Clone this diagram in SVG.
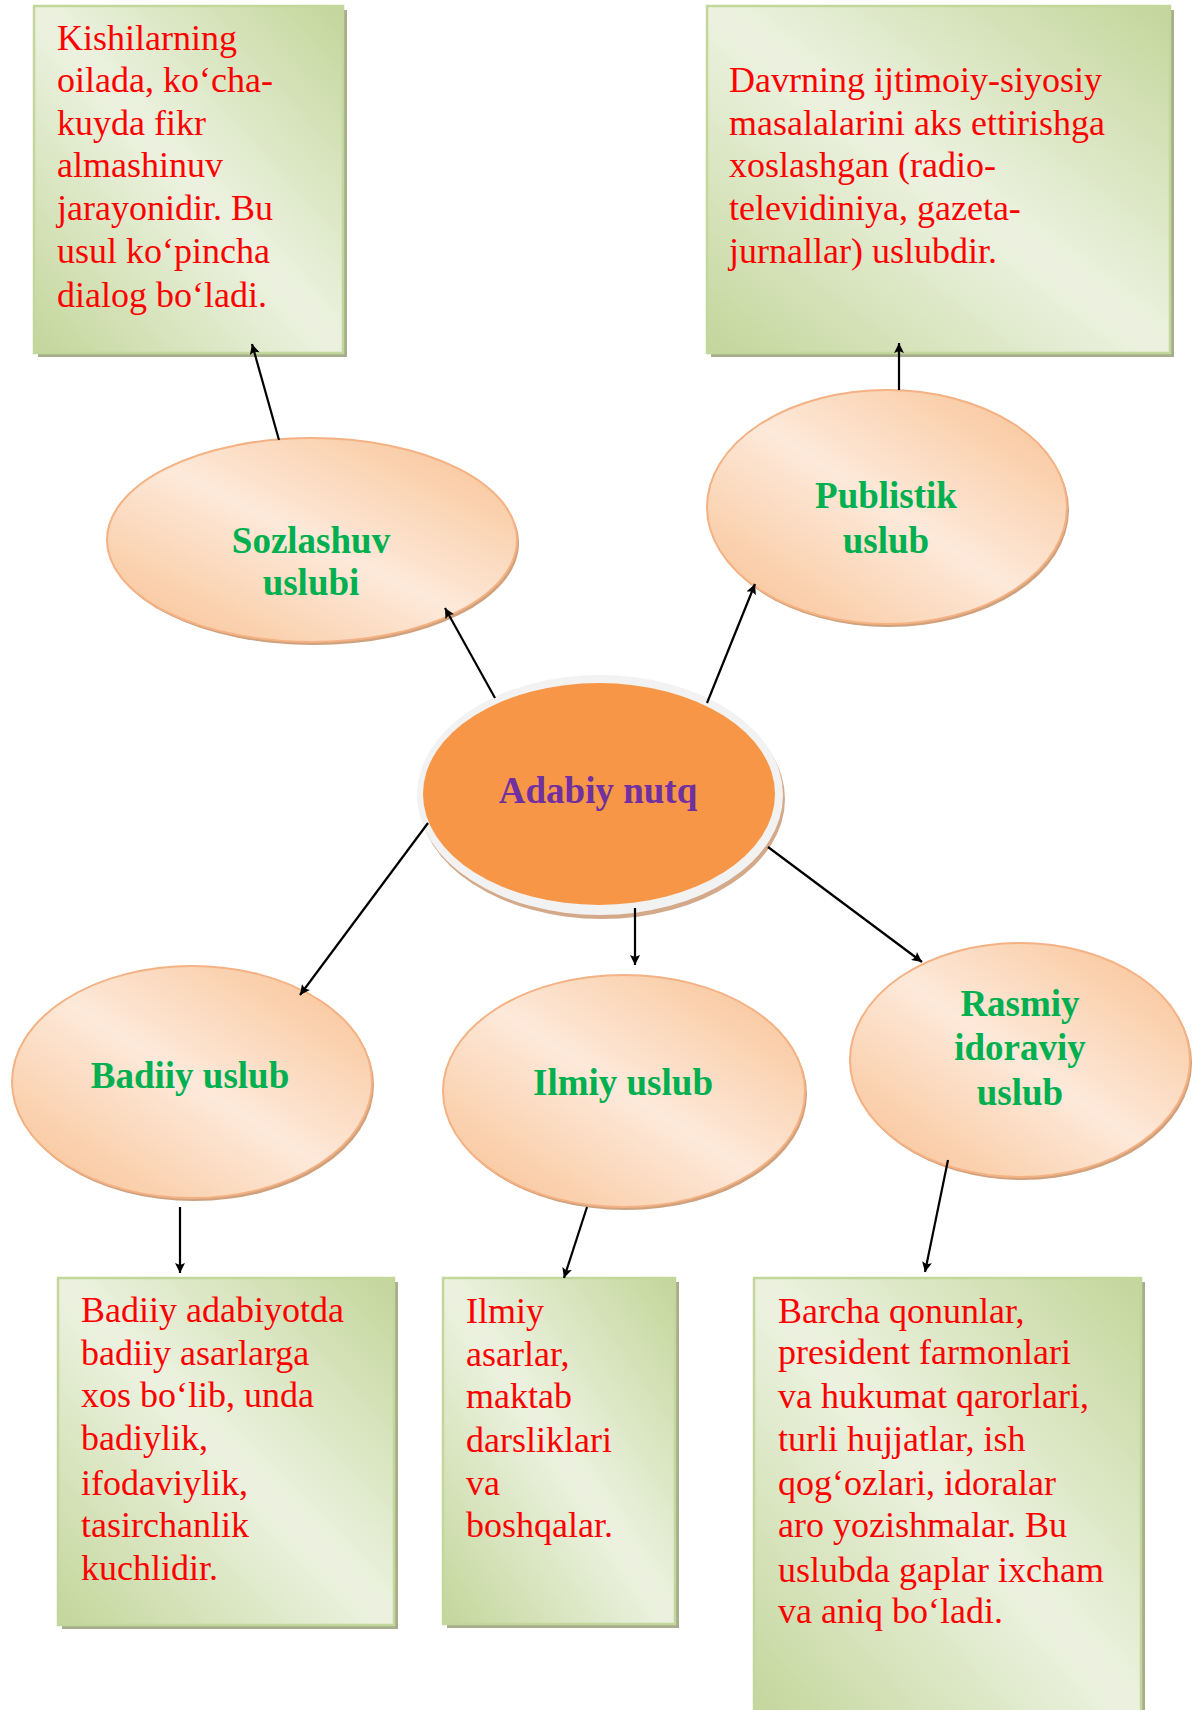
<svg xmlns="http://www.w3.org/2000/svg" width="1195" height="1710" viewBox="0 0 1195 1710">
<defs>
  <linearGradient id="gBox" x1="1" y1="0" x2="0" y2="1">
    <stop offset="0" stop-color="#c3d69b"/>
    <stop offset="0.48" stop-color="#ebf1de"/>
    <stop offset="0.52" stop-color="#ebf1de"/>
    <stop offset="1" stop-color="#c3d69b"/>
  </linearGradient>
  <linearGradient id="gEll" x1="1" y1="0" x2="0" y2="1">
    <stop offset="0" stop-color="#f8c090"/>
    <stop offset="0.5" stop-color="#fde9da"/>
    <stop offset="1" stop-color="#f8c090"/>
  </linearGradient>
  <marker id="arr" viewBox="0 0 10 10" refX="9" refY="5" markerWidth="6" markerHeight="6" markerUnits="userSpaceOnUse" orient="auto">
    <path d="M0,0 L10,5 L0,10 z" fill="#000"/>
  </marker>
  <marker id="arrB" viewBox="0 0 10 10" refX="10" refY="5" markerWidth="12" markerHeight="10" markerUnits="userSpaceOnUse" orient="auto">
    <path d="M0,0 L10,5 L0,10 L2,5 z" fill="#000"/>
  </marker>
</defs>
<style>
  .box { fill: url(#gBox); stroke: #c3d69b; stroke-width: 2.5; }
  .boxsh { fill: #a6ae8c; }
  .ell { fill: url(#gEll); stroke: #f4b183; stroke-width: 2; }
  .ellsh { fill: #cfa17c; }
  .body { font-family: "Liberation Serif", "Times New Roman", serif; font-size: 36px; fill: #ff0000; }
  .lbl { font-family: "Liberation Serif", "Times New Roman", serif; font-size: 37px; font-weight: bold; fill: #00b050; text-anchor: middle; }
  .ctr { font-family: "Liberation Serif", "Times New Roman", serif; font-size: 37px; font-weight: bold; fill: #7030a0; text-anchor: middle; }
  .conn { stroke: #000; stroke-width: 2.2; fill: none; marker-end: url(#arrB); }
</style>
<rect width="1195" height="1710" fill="#ffffff"/>

<g id="box-sozlashuv">
  <rect class="boxsh" x="38" y="10" width="309" height="347"/>
  <rect class="box" x="34" y="6" width="309" height="347"/>
  <text class="body">
    <tspan x="57" y="50">Kishilarning</tspan>
    <tspan x="57" y="92">oilada, ko‘cha-</tspan>
    <tspan x="57" y="135">kuyda fikr</tspan>
    <tspan x="57" y="177">almashinuv</tspan>
    <tspan x="57" y="220">jarayonidir. Bu</tspan>
    <tspan x="57" y="263">usul ko‘pincha</tspan>
    <tspan x="57" y="307">dialog bo‘ladi.</tspan>
  </text>
</g>

<g id="box-publistik">
  <rect class="boxsh" x="711" y="10" width="463" height="347"/>
  <rect class="box" x="707" y="6" width="463" height="347"/>
  <text class="body">
    <tspan x="729" y="92">Davrning ijtimoiy-siyosiy</tspan>
    <tspan x="729" y="135">masalalarini aks ettirishga</tspan>
    <tspan x="729" y="177">xoslashgan (radio-</tspan>
    <tspan x="729" y="220">televidiniya, gazeta-</tspan>
    <tspan x="729" y="263">jurnallar) uslubdir.</tspan>
  </text>
</g>

<g id="box-badiiy">
  <rect class="boxsh" x="62" y="1282" width="336" height="347"/>
  <rect class="box" x="58" y="1278" width="336" height="347"/>
  <text class="body">
    <tspan x="81" y="1322">Badiiy adabiyotda</tspan>
    <tspan x="81" y="1365">badiiy asarlarga</tspan>
    <tspan x="81" y="1407">xos bo‘lib, unda</tspan>
    <tspan x="81" y="1450">badiylik,</tspan>
    <tspan x="81" y="1495">ifodaviylik,</tspan>
    <tspan x="81" y="1537">tasirchanlik</tspan>
    <tspan x="81" y="1580">kuchlidir.</tspan>
  </text>
</g>

<g id="box-ilmiy">
  <rect class="boxsh" x="447" y="1282" width="232" height="346"/>
  <rect class="box" x="443" y="1278" width="232" height="346"/>
  <text class="body">
    <tspan x="466" y="1323">Ilmiy</tspan>
    <tspan x="466" y="1366">asarlar,</tspan>
    <tspan x="466" y="1408">maktab</tspan>
    <tspan x="466" y="1452">darsliklari</tspan>
    <tspan x="466" y="1495">va</tspan>
    <tspan x="466" y="1537">boshqalar.</tspan>
  </text>
</g>

<g id="box-rasmiy">
  <rect class="boxsh" x="758" y="1282" width="387" height="440"/>
  <rect class="box" x="754" y="1278" width="387" height="440"/>
  <text class="body">
    <tspan x="778" y="1323">Barcha qonunlar,</tspan>
    <tspan x="778" y="1364">president farmonlari</tspan>
    <tspan x="778" y="1408">va hukumat qarorlari,</tspan>
    <tspan x="778" y="1451">turli hujjatlar, ish</tspan>
    <tspan x="778" y="1495">qog‘ozlari, idoralar</tspan>
    <tspan x="778" y="1537">aro yozishmalar. Bu</tspan>
    <tspan x="778" y="1582">uslubda gaplar ixcham</tspan>
    <tspan x="778" y="1623">va aniq bo‘ladi.</tspan>
  </text>
</g>

<g id="node-sozlashuv">
  <ellipse class="ellsh" cx="314" cy="543" rx="205" ry="102"/>
  <ellipse class="ell" cx="312" cy="540" rx="205" ry="102"/>
  <text class="lbl"><tspan x="311" y="553">Sozlashuv</tspan><tspan x="311" y="595">uslubi</tspan></text>
</g>

<g id="node-publistik">
  <ellipse class="ellsh" cx="889" cy="510" rx="180" ry="117"/>
  <ellipse class="ell" cx="887" cy="507" rx="180" ry="117"/>
  <text class="lbl"><tspan x="886" y="508">Publistik</tspan><tspan x="886" y="553">uslub</tspan></text>
</g>

<g id="node-adabiy">
  <ellipse cx="602" cy="799" rx="183" ry="120" fill="#d3a98a"/>
  <ellipse cx="600" cy="795" rx="183" ry="120" fill="#f2f2f2"/>
  <ellipse cx="599" cy="794" rx="176" ry="111" fill="#f79646"/>
  <text class="ctr" x="598" y="803">Adabiy nutq</text>
</g>

<g id="node-badiiy">
  <ellipse class="ellsh" cx="194" cy="1085" rx="180" ry="116"/>
  <ellipse class="ell" cx="192" cy="1082" rx="180" ry="116"/>
  <text class="lbl" x="190" y="1088">Badiiy uslub</text>
</g>

<g id="node-ilmiy">
  <ellipse class="ellsh" cx="626" cy="1094" rx="181" ry="116"/>
  <ellipse class="ell" cx="624" cy="1091" rx="181" ry="116"/>
  <text class="lbl" x="623" y="1095">Ilmiy uslub</text>
</g>

<g id="node-rasmiy">
  <ellipse class="ellsh" cx="1022" cy="1063" rx="170" ry="117"/>
  <ellipse class="ell" cx="1020" cy="1060" rx="170" ry="117"/>
  <text class="lbl"><tspan x="1020" y="1016">Rasmiy</tspan><tspan x="1020" y="1060">idoraviy</tspan><tspan x="1020" y="1105">uslub</tspan></text>
</g>

<g id="connectors">
  <line class="conn" x1="279" y1="440" x2="252" y2="344"/>
  <line class="conn" x1="899" y1="390" x2="899" y2="343"/>
  <line class="conn" x1="495" y1="698" x2="445" y2="608"/>
  <line class="conn" x1="707" y1="703" x2="755" y2="584"/>
  <line class="conn" x1="428" y1="823" x2="300" y2="995"/>
  <line class="conn" x1="635" y1="908" x2="635" y2="965"/>
  <line class="conn" x1="768" y1="847" x2="922" y2="962"/>
  <line class="conn" x1="180" y1="1207" x2="180" y2="1273"/>
  <line class="conn" x1="587" y1="1207" x2="564" y2="1278"/>
  <line class="conn" x1="948" y1="1160" x2="925" y2="1272"/>
</g>
</svg>
